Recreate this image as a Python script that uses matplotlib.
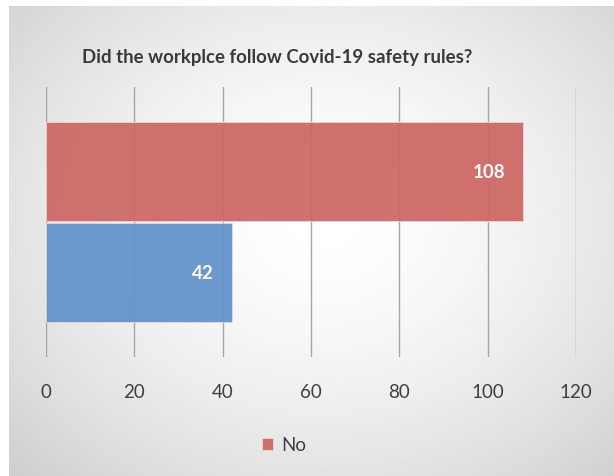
import matplotlib.pyplot as plt
import numpy as np

# survey answers
series_names = ["No", "Yes"]
series_values = [108, 42]
series_colors = ["#cd6966", "#6494cb"]
x_ticks = [0, 20, 40, 60, 80, 100, 120]
title = "Did the workplce follow Covid-19 safety rules?"

W, H = 614, 477
fig = plt.figure(figsize=(W / 100, H / 100), dpi=100)
fig.patch.set_facecolor("white")

# grey panel with a soft radial highlight in the middle
bg = fig.add_axes([9 / W, 0, 1 - 9 / W, 1 - 7 / H], zorder=-5)
gy, gx = np.mgrid[0:1:300j, 0:1:400j]
r = np.sqrt(((gx - 0.52) / 0.75) ** 2 + ((gy - 0.45) / 0.8) ** 2)
shade = np.clip(1.0 - 0.2 * r ** 1.6, 0.79, 1.0)
bg.imshow(shade, cmap="gray", vmin=0, vmax=1, aspect="auto",
          extent=[0, 1, 0, 1], interpolation="bilinear")
bg.axis("off")

ax = fig.add_axes([46 / W, 1 - 358 / H, 530 / W, 270 / H])
ax.patch.set_alpha(0)

bar_h = 0.367
offsets = [bar_h / 2 + 0.003, -bar_h / 2 - 0.003]
for name, val, col, off in zip(series_names, series_values, series_colors, offsets):
    lab = name if name == "No" else "_nolegend_"
    ax.barh(off, val, height=bar_h, color=col, edgecolor="#f2d6d5",
            linewidth=0.6, alpha=0.95, label=lab, zorder=3)
    ax.text(val - 4, off, str(val), ha="right", va="center", color="white",
            fontsize=13.5, fontweight="bold", family="Lato", zorder=4)

ax.set_xlim(0, 120)
ax.set_ylim(-0.5, 0.5)
ax.set_xticks(x_ticks)
ax.set_xticklabels([str(t) for t in x_ticks], fontsize=13.5, family="Lato",
                   color="#404040")
ax.set_yticks([])
ax.tick_params(axis="x", length=0, pad=19)
ax.grid(axis="x", color="#a6a6a6", linewidth=1.0, zorder=1)
for s in ax.spines.values():
    s.set_visible(False)

fig.text(277 / W, 1 - 57 / H, title, ha="center", va="center",
         fontsize=13.4, fontweight="bold", family="Lato", color="#3a3a3a")

handles, labels = ax.get_legend_handles_labels()
fig.legend(handles, labels, loc="center", bbox_to_anchor=(284 / W, 1 - 446 / H),
           frameon=False, prop={"family": "Lato", "size": 13.5},
           handlelength=0.6, handleheight=0.6, handletextpad=0.4,
           labelcolor="#404040")

fig.savefig("out.png", dpi=100)
